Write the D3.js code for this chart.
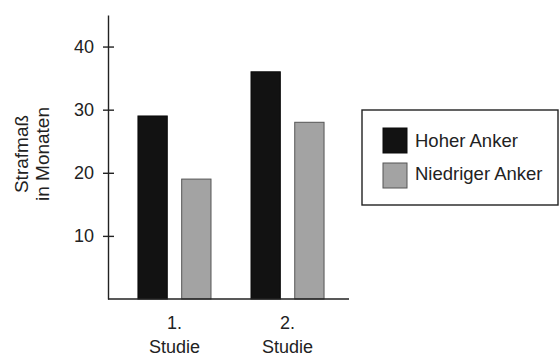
<!DOCTYPE html>
<html>
<head>
<meta charset="utf-8">
<script src="https://cdn.jsdelivr.net/npm/d3@7"></script>
<style>
  body { margin: 0; background: #fff; }
  text { font-family: "Liberation Sans", Arial, sans-serif; fill: #222; }
</style>
</head>
<body>
<div id="chart"></div>
<script>
/* DATA */
const studies = ["1.", "2."];
const studyLabel = "Studie";
const series = ["Hoher Anker", "Niedriger Anker"];
const hoherValues = [29, 36];
const niedrigerValues = [19, 28];
const yTicks = [10, 20, 30, 40];
const yTitle = ["Strafmaß", "in Monaten"];

const width = 560, height = 358;
const colors = { "Hoher Anker": "#121212", "Niedriger Anker": "#a3a3a3" };
const strokes = { "Hoher Anker": "#0a0a0a", "Niedriger Anker": "#555" };

const data = studies.map((s, i) => ({
  study: s,
  values: [
    { key: series[0], value: hoherValues[i] },
    { key: series[1], value: niedrigerValues[i] }
  ]
}));

const svg = d3.select("#chart").append("svg")
  .attr("width", width)
  .attr("height", height);

// scales
const x0 = d3.scaleBand()
  .domain(studies)
  .range([108, 354])
  .paddingInner(0.354)
  .paddingOuter(0.265);

const x1 = d3.scaleBand()
  .domain(series)
  .range([0, x0.bandwidth()])
  .paddingInner(0.33);

const y = d3.scaleLinear()
  .domain([0, 45])
  .range([299, 15]);

// bars
svg.append("g")
  .selectAll("g")
  .data(data)
  .join("g")
  .attr("transform", d => `translate(${x0(d.study)},0)`)
  .selectAll("rect")
  .data(d => d.values)
  .join("rect")
  .attr("x", d => x1(d.key))
  .attr("y", d => y(d.value))
  .attr("width", x1.bandwidth())
  .attr("height", d => y(0) - y(d.value))
  .attr("fill", d => colors[d.key])
  .attr("stroke", d => strokes[d.key])
  .attr("stroke-width", 1);

// y axis
const yAxis = d3.axisLeft(y)
  .tickValues(yTicks)
  .tickSizeInner(5)
  .tickSizeOuter(0)
  .tickPadding(9);

const yg = svg.append("g")
  .attr("transform", "translate(108,0)")
  .call(yAxis);
yg.select(".domain").attr("stroke", "#222").attr("stroke-width", 1.4);
yg.selectAll(".tick line").attr("x1", 6).attr("stroke", "#222").attr("stroke-width", 1.4);
yg.selectAll(".tick text")
  .attr("font-size", 18)
  .attr("font-family", "Liberation Sans, Arial, sans-serif")
  .attr("fill", "#222");

// x axis baseline
svg.append("line")
  .attr("x1", 108)
  .attr("x2", 349)
  .attr("y1", y(0))
  .attr("y2", y(0))
  .attr("stroke", "#222")
  .attr("stroke-width", 1.6);

// x labels
const xl = svg.append("g")
  .selectAll("text")
  .data(studies)
  .join("text")
  .attr("text-anchor", "middle")
  .attr("font-size", 18);
xl.append("tspan")
  .attr("x", d => x0(d) + x0.bandwidth() / 2)
  .attr("y", 329)
  .text(d => d);
xl.append("tspan")
  .attr("x", d => x0(d) + x0.bandwidth() / 2)
  .attr("y", 353)
  .text(studyLabel);

// y title
svg.append("g")
  .selectAll("text")
  .data(yTitle)
  .join("text")
  .attr("transform", (d, i) => `translate(${28 + i * 21},154) rotate(-90)`)
  .attr("text-anchor", "middle")
  .attr("font-size", 19)
  .text(d => d);

// legend
const legend = svg.append("g").attr("transform", "translate(362,110)");
legend.append("rect")
  .attr("width", 196)
  .attr("height", 95)
  .attr("fill", "#fff")
  .attr("stroke", "#222")
  .attr("stroke-width", 1.4);

const li = legend.selectAll("g.item")
  .data(series)
  .join("g")
  .attr("class", "item")
  .attr("transform", (d, i) => `translate(21,${18 + i * 35})`);
li.append("rect")
  .attr("width", 24)
  .attr("height", 25)
  .attr("fill", d => colors[d])
  .attr("stroke", d => strokes[d]);
li.append("text")
  .attr("x", 32)
  .attr("y", (d, i) => 19 - i * 2)
  .attr("font-size", 18.5)
  .text(d => d);
</script>
</body>
</html>
